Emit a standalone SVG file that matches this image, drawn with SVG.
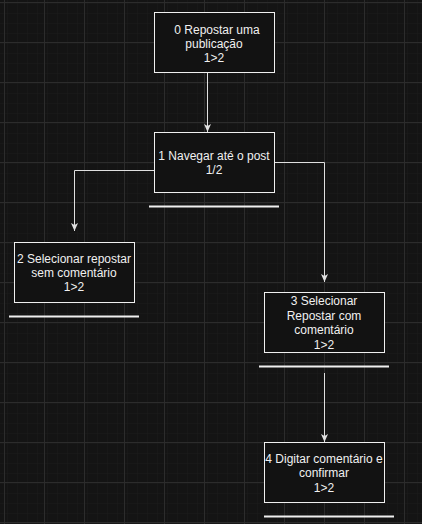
<svg xmlns="http://www.w3.org/2000/svg" width="422" height="524" viewBox="0 0 422 524">
<style>
.node rect{fill:#121212;stroke:#f0f0f0;stroke-width:1}
.node text{font-family:"Liberation Sans",Arial,sans-serif;font-size:12px;fill:#f0f0f0;text-anchor:middle}
.edge{fill:none;stroke:#e0e0e0;stroke-width:1}
.ul{stroke:#f0f0f0;stroke-width:2}
</style>
<defs>
<pattern id="minor" width="10" height="10" x="4" y="2" patternUnits="userSpaceOnUse">
<path d="M10,0 V10 M0,10 H10" fill="none" stroke="#1c1c1c" stroke-width="1"/>
</pattern>
<pattern id="major" width="40" height="40" x="4" y="2" patternUnits="userSpaceOnUse">
<rect width="40" height="40" fill="url(#minor)"/>
<path d="M0.5,0 V40 M0,0.5 H40" fill="none" stroke="#2c2c2c" stroke-width="1"/>
</pattern>
<marker id="arr" markerWidth="8" markerHeight="8" refX="8" refY="3.5" orient="auto" markerUnits="userSpaceOnUse" viewBox="0 0 8 7">
<path d="M0,0 L8,3.5 L0,7 L2,3.5 z" fill="#e0e0e0"/>
</marker>
</defs>
<rect width="422" height="524" fill="#141414"/>
<rect width="422" height="524" fill="url(#major)"/>
<g id="connectors">
<path class="edge" d="M207.5,72 V132" marker-end="url(#arr)"/>
<path class="edge" d="M274,162.5 H324.5 V282" marker-end="url(#arr)"/>
<path class="edge" d="M154,170.5 H74.5 V231" marker-end="url(#arr)"/>
<path class="edge" d="M324.5,373 V442" marker-end="url(#arr)"/>
</g>
<g id="node0" class="node">
<rect x="154.5" y="12.5" width="120" height="60"/>
<text x="217" y="33.5">0 Repostar uma</text>
<text x="214" y="47.5">publicação</text>
<text x="214" y="61.5">1&gt;2</text>
</g>
<g id="node1" class="node">
<rect x="154.5" y="132.5" width="120" height="60"/>
<text x="214" y="160">1 Navegar até o post</text>
<text x="214" y="174">1/2</text>
<line class="ul" x1="149" y1="206.5" x2="279" y2="206.5"/>
</g>
<g id="node2" class="node">
<rect x="14.5" y="242.5" width="120" height="60"/>
<text x="74" y="263">2 Selecionar repostar</text>
<text x="74" y="277">sem comentário</text>
<text x="74" y="291">1&gt;2</text>
<line class="ul" x1="9" y1="316.5" x2="139" y2="316.5"/>
</g>
<g id="node3" class="node">
<rect x="264.5" y="292.5" width="120" height="60"/>
<text x="324" y="305">3 Selecionar</text>
<text x="324" y="319.5">Repostar com</text>
<text x="324" y="334">comentário</text>
<text x="324" y="348.5">1&gt;2</text>
<line class="ul" x1="259" y1="366.5" x2="389" y2="366.5"/>
</g>
<g id="node4" class="node">
<rect x="264.5" y="442.5" width="120" height="60"/>
<text x="324" y="463.3">4 Digitar comentário e</text>
<text x="324" y="477">confirmar</text>
<text x="324" y="491.5">1&gt;2</text>
<line class="ul" x1="264" y1="516.5" x2="394" y2="516.5"/>
</g>
</svg>
